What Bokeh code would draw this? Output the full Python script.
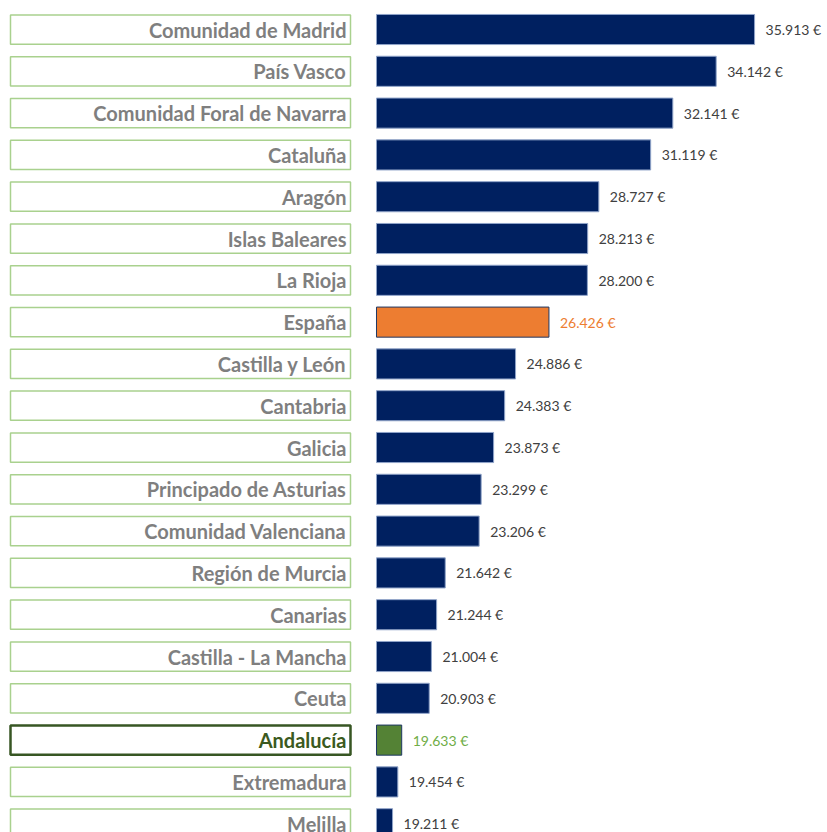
from bokeh.plotting import figure
from bokeh.layouts import row
from bokeh.models import Range1d, ColumnDataSource
from bokeh.core.properties import value
from bokeh.embed import file_html
from bokeh.resources import INLINE

regions = ["Comunidad de Madrid", "País Vasco", "Comunidad Foral de Navarra", "Cataluña",
           "Aragón", "Islas Baleares", "La Rioja", "España", "Castilla y León", "Cantabria",
           "Galicia", "Principado de Asturias", "Comunidad Valenciana", "Región de Murcia",
           "Canarias", "Castilla - La Mancha", "Ceuta", "Andalucía", "Extremadura", "Melilla"]
income = [35913, 34142, 32141, 31119, 28727, 28213, 28200, 26426, 24886, 24383,
          23873, 23299, 23206, 21642, 21244, 21004, 20903, 19633, 19454, 19211]
value_labels = [f"{v:,}".replace(",", ".") + " €" for v in income]

NAVY = "#002060"
ORANGE = "#ED7D31"
GREEN = "#548235"
idx = list(range(len(regions)))

bar_col = [ORANGE if r == "España" else GREEN if r == "Andalucía" else NAVY for r in regions]
bar_line = ["#1F3864" if r in ("España", "Andalucía") else "#8FA3C8" for r in regions]
txt_col = ["#ED7D31" if r == "España" else "#70AD47" if r == "Andalucía" else "#404040" for r in regions]
box_line = ["#375623" if r == "Andalucía" else "#A9D18E" for r in regions]
box_w = [2.5 if r == "Andalucía" else 1.5 for r in regions]
lab_col = ["#3B5A20" if r == "Andalucía" else "#7F7F7F" for r in regions]

yr_top = -0.694
yr_bot = 19.21

left = figure(width=368, height=832, output_backend="svg", toolbar_location=None,
              x_range=Range1d(0, 368), y_range=Range1d(yr_bot, yr_top),
              x_axis_location=None, y_axis_location=None, min_border=0,
              outline_line_color=None)
left.grid.visible = False
lsrc = ColumnDataSource(dict(y=idx, name=regions, lc=box_line, lw=box_w, tc=lab_col))
left.rect(x=180, y="y", width=340, height=0.70, source=lsrc, fill_color="white",
          line_color="lc", line_width="lw")
left.text(x=346, y="y", text="name", source=lsrc, text_align="right",
          text_baseline="middle", text_font=value("Lato"), text_font_style="bold",
          text_font_size="20px", text_color="tc", y_offset=0)

x0 = 18101
x1 = 39278
base = 18470
right = figure(width=459, height=832, output_backend="svg", toolbar_location=None,
               x_range=Range1d(x0, x1), y_range=Range1d(yr_bot, yr_top),
               x_axis_location=None, y_axis_location=None, min_border=0,
               outline_line_color=None)
right.grid.visible = False
rsrc = ColumnDataSource(dict(y=idx, v=income, lab=value_labels, fc=bar_col, lc=bar_line, tc=txt_col))
right.hbar(y="y", left=base, right="v", height=0.72, source=rsrc, fill_color="fc",
           line_color="lc", line_width=1)
right.text(x="v", y="y", text="lab", source=rsrc, x_offset=11, text_baseline="middle",
           text_font=value("Lato"), text_font_size="14px", text_color="tc", y_offset=0)

layout = row(left, right, spacing=0)
open("out.html", "w").write(file_html(layout, INLINE))
